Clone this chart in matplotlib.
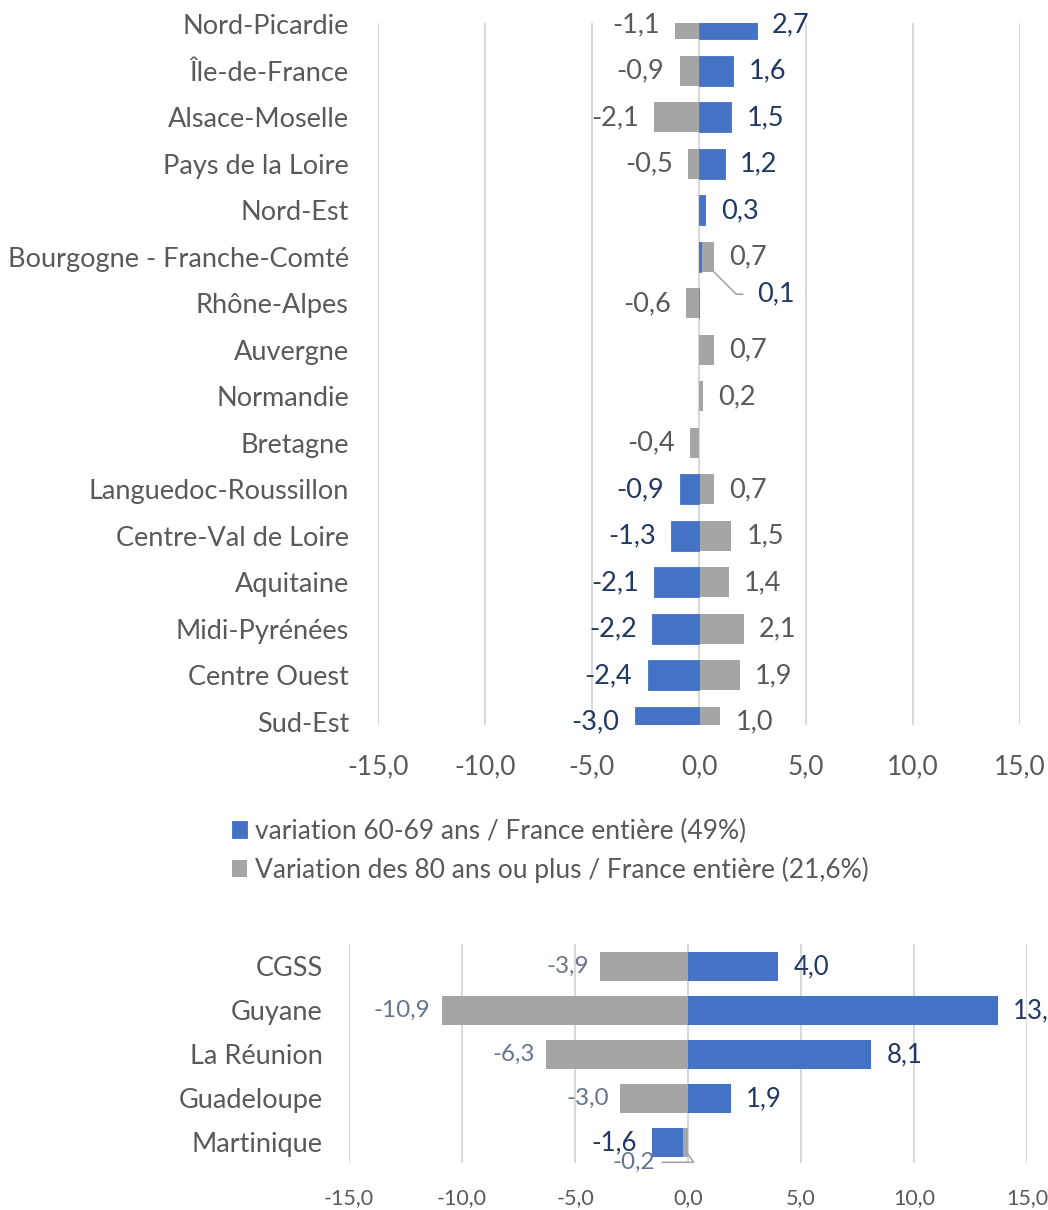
import numpy as np
import matplotlib
matplotlib.use("Agg")
import matplotlib.pyplot as plt

plt.rcParams['font.family'] = ['Lato', 'DejaVu Sans']

# --- data ---
regions = ["Nord-Picardie", "Île-de-France", "Alsace-Moselle", "Pays de la Loire",
           "Nord-Est", "Bourgogne - Franche-Comté", "Rhône-Alpes", "Auvergne",
           "Normandie", "Bretagne", "Languedoc-Roussillon", "Centre-Val de Loire",
           "Aquitaine", "Midi-Pyrénées", "Centre Ouest", "Sud-Est"]
var_60_69 = [2.7, 1.6, 1.5, 1.2, 0.3, 0.1, 0.0, np.nan, np.nan, np.nan,
             -0.9, -1.3, -2.1, -2.2, -2.4, -3.0]
var_80_plus = [-1.1, -0.9, -2.1, -0.5, np.nan, 0.7, -0.6, 0.7, 0.2, -0.4,
               0.7, 1.5, 1.4, 2.1, 1.9, 1.0]

dom = ["CGSS", "Guyane", "La Réunion", "Guadeloupe", "Martinique"]
dom_60_69 = [4.0, 13.7, 8.1, 1.9, -1.6]
dom_80_plus = [-3.9, -10.9, -6.3, -3.0, -0.2]

ticks = [-15, -10, -5, 0, 5, 10, 15]
legend_labels = ["variation 60-69 ans / France entière (49%)",
                 "Variation des 80 ans ou plus / France entière (21,6%)"]

BLUE = "#4472C4"
GRAY = "#A5A5A5"
NAVY = "#203864"
TXT = "#595959"
SLATE = "#67748F"
GRID = "#D9D9D9"


def fr(v):
    return f"{v:.1f}".replace(".", ",")


def put_label(ax, v, y, color, size, off=11):
    if v is None or np.isnan(v) or v == 0:
        return
    ha = "left" if v > 0 else "right"
    ax.annotate(fr(v), (v, y), xytext=(off if v > 0 else -off, 0),
                textcoords="offset points", ha=ha, va="center",
                color=color, fontsize=size, clip_on=False)


def style_axis(ax, lim, tick_size, pad_y, pad_x):
    ax.set_xlim(-15, 15)
    ax.set_xticks(ticks)
    ax.set_xticklabels([fr(t) for t in ticks])
    ax.set_ylim(*lim)
    for s in ax.spines.values():
        s.set_visible(False)
    ax.grid(axis="x", color=GRID, linewidth=1.5)
    ax.set_axisbelow(True)
    ax.tick_params(axis="both", length=0, colors=TXT)
    ax.tick_params(axis="x", labelsize=tick_size, pad=pad_x)
    ax.tick_params(axis="y", pad=pad_y)


fig = plt.figure(figsize=(10.48, 12.10), dpi=100)

# --- top panel: regions ---
ax1 = fig.add_axes([378 / 1048, 1 - 725 / 1210, (1020 - 378) / 1048, (725 - 23) / 1210])
y = np.arange(len(regions))
h = 0.645
b80 = ax1.barh(y, var_80_plus, height=h, color=GRAY, zorder=2)
b60 = ax1.barh(y, var_60_69, height=h, color=BLUE, edgecolor=BLUE, linewidth=0.6, zorder=3)
ax1.set_yticks(y)
ax1.set_yticklabels(regions, fontsize=19.5, color=TXT)
style_axis(ax1, (15.065, -0.032), 19, 21, 21)

for i in range(len(regions)):
    if regions[i] == "Bourgogne - Franche-Comté":
        continue
    put_label(ax1, var_60_69[i], y[i], NAVY, 19.5)
    put_label(ax1, var_80_plus[i], y[i], TXT, 19.5)

# Bourgogne: gray label normal, blue label moved with a leader line
ib = regions.index("Bourgogne - Franche-Comté")
put_label(ax1, var_80_plus[ib], y[ib], TXT, 19.5)
ax1.annotate(fr(var_60_69[ib]), xy=(var_80_plus[ib], y[ib] + h / 2),
             xytext=(2.7, y[ib] + 0.8), ha="left", va="center", color=NAVY, fontsize=19.5,
             arrowprops=dict(arrowstyle="-", color="#A6A6A6", lw=1.2,
                             connectionstyle="angle,angleA=0,angleB=-45,rad=0",
                             shrinkA=8, shrinkB=0))

fig.legend([b60, b80], legend_labels, loc="upper left",
           bbox_to_anchor=(221 / 1048, 1 - 808 / 1210), frameon=False,
           fontsize=19, labelcolor=TXT, handlelength=0.6, handleheight=0.6,
           handletextpad=0.3, labelspacing=0.5, borderaxespad=0)

# --- bottom panel: DOM ---
ax2 = fig.add_axes([349 / 1048, 1 - 1163 / 1210, (1027 - 349) / 1048, (1163 - 944) / 1210])
y2 = np.arange(len(dom))
h2 = 0.66
ax2.barh(y2, dom_60_69, height=h2, color=BLUE, zorder=2)
ax2.barh(y2, dom_80_plus, height=h2, color=GRAY, zorder=3)
ax2.set_yticks(y2)
ax2.set_yticklabels(dom, fontsize=19.5, color=TXT)
style_axis(ax2, (4.466, -0.511), 15.5, 19, 18)

for i in range(len(dom)):
    put_label(ax2, dom_60_69[i], y2[i], NAVY, 18.5)
    if dom[i] == "Martinique":
        continue
    put_label(ax2, dom_80_plus[i], y2[i], SLATE, 17.5, off=8)

im = dom.index("Martinique")
ax2.annotate(fr(dom_80_plus[im]), xy=(dom_80_plus[im], y2[im] + 0.12),
             xytext=(-1.45, y2[im] + 0.45), ha="right", va="center",
             color=SLATE, fontsize=17.5,
             arrowprops=dict(arrowstyle="-", color="#A6A6A6", lw=1.2,
                             connectionstyle="angle,angleA=0,angleB=-55,rad=0",
                             shrinkA=3, shrinkB=0))

fig.savefig("out.png", dpi=100)
